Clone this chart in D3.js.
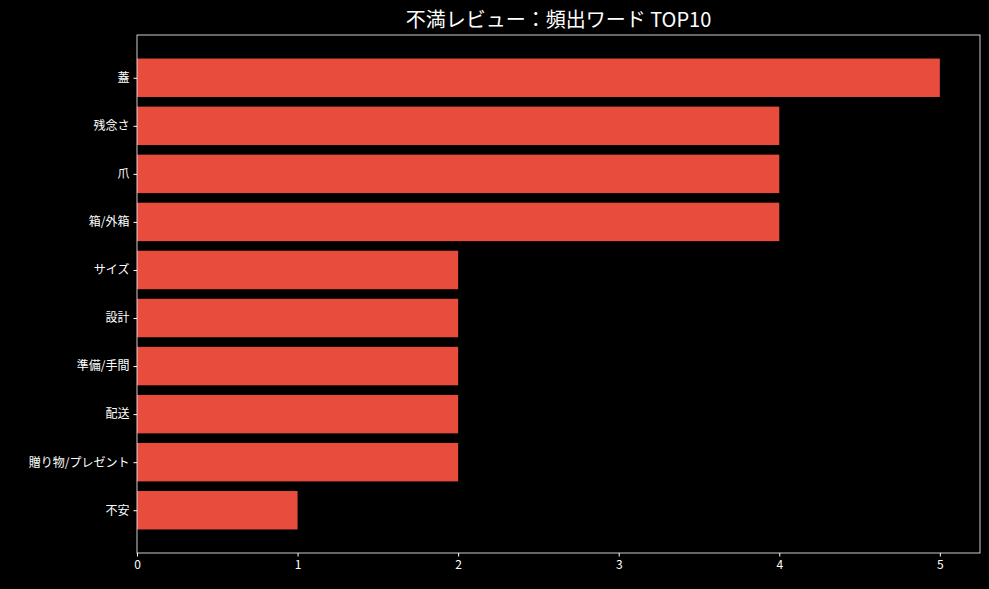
<!DOCTYPE html>
<html><head><meta charset="utf-8">
<script src="https://cdn.jsdelivr.net/npm/d3@7"></script>
<style>
body{margin:0;background:#000;}
text{font-family:"Noto Sans CJK JP","DejaVu Sans",sans-serif;fill:#fff;}
</style></head><body>
<svg id="chart" width="989" height="589"></svg>
<script>
var words = ["蓋", "残念さ", "爪", "箱/外箱", "サイズ", "設計", "準備/手間", "配送", "贈り物/プレゼント", "不安"];
var counts = [5, 4, 4, 4, 2, 2, 2, 2, 2, 1];
var xTicks = [0, 1, 2, 3, 4, 5];

var svg = d3.select("#chart");
var margin = {top: 35, right: 9, bottom: 36, left: 137};
var width = 989 - margin.left - margin.right,
    height = 589 - margin.top - margin.bottom;

svg.append("rect").attr("width", 989).attr("height", 589).attr("fill", "#000");

var xScale = d3.scaleLinear().domain([0, 5.25]).range([0, width]);
// bars at index positions, 0.8 thick, with matplotlib-style 5% margins
var yScale = d3.scaleLinear().domain([-0.89, 9.89]).range([0, height]);

var g = svg.append("g").attr("transform", `translate(${margin.left},${margin.top})`);

g.selectAll("rect.bar")
    .data(words)
    .enter()
    .append("rect")
    .attr("class", "bar")
    .attr("x", xScale(0))
    .attr("y", (d, i) => yScale(i - 0.4))
    .attr("width", (d, i) => xScale(counts[i]) - xScale(0))
    .attr("height", yScale(0.8) - yScale(0))
    .attr("fill", "#e74c3c");

// frame
g.append("rect").attr("width", width).attr("height", height)
    .attr("fill", "none").attr("stroke", "#fff").attr("stroke-width", 0.8);

var xAxis = g.append("g").attr("transform", `translate(0,${height})`)
    .call(d3.axisBottom(xScale).tickValues(xTicks).tickFormat(d3.format("d")).tickSize(3.5).tickPadding(4));
var yAxis = g.append("g")
    .call(d3.axisLeft(yScale).tickValues(d3.range(words.length)).tickFormat(i => words[i]).tickSize(3.5).tickPadding(4));

[xAxis, yAxis].forEach(a => {
    a.select(".domain").remove();
    a.selectAll("line").attr("stroke", "#fff");
    a.selectAll("text").attr("font-size", 12).style("fill", "#fff");
});

svg.append("text")
    .attr("x", margin.left + width / 2)
    .attr("y", 27)
    .attr("text-anchor", "middle")
    .attr("font-size", 20)
    .text("不満レビュー：頻出ワード TOP10");
</script></body></html>
